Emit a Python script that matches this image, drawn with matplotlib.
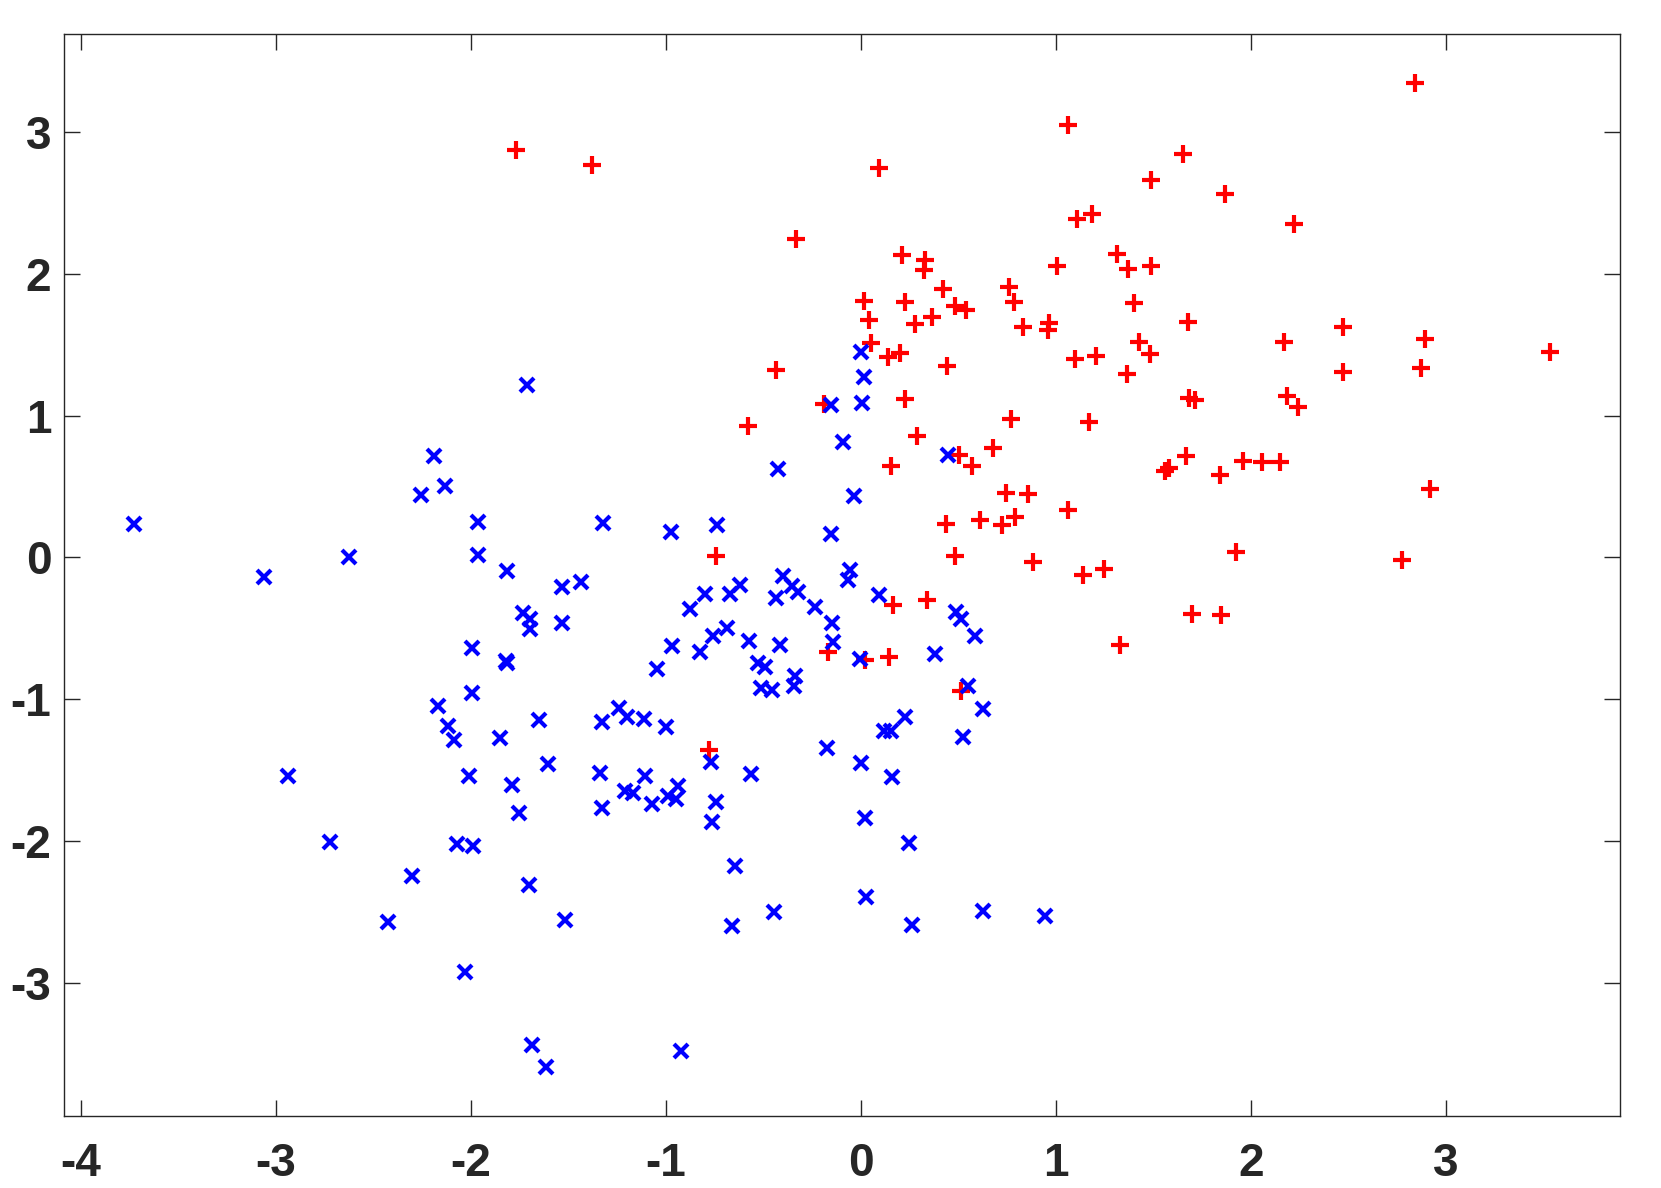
import matplotlib
matplotlib.use("Agg")
import matplotlib.pyplot as plt

# --- class 1 (red "+") ---
red_x = [-1.770, -1.380, 0.092, 1.060, 2.842, -0.333, 1.110, 1.187, 1.652, 1.490,
         1.865, 2.222, 0.211, 0.329, 0.324, 1.006, 1.311, 1.371, 1.490, 0.423,
         0.762, 0.787, 0.016, 0.226, 0.481, 0.541, 1.403, 1.677, 0.040, 0.276,
         0.367, 0.829, 0.965, 0.958, 2.470, 2.895, 3.536, 0.054, 0.139, 0.199,
         1.427, 1.482, 2.172, 0.444, 1.099, 1.205, 1.367, 2.471, 2.872, -0.435,
         0.226, 1.683, 1.711, 2.187, 2.242, -0.190, -0.579, 0.769, 1.170, 0.287,
         0.505, 0.676, 0.155, 0.570, 1.666, 1.560, 1.578, 1.841, 1.961, 2.059,
         2.148, 2.921, 0.745, 0.858, 1.062, 0.435, 0.612, 0.723, 0.788, -0.743,
         0.485, 0.883, 1.925, 2.776, 1.139, 1.246, 0.167, 0.337, 1.696, 1.845,
         1.330, -0.170, 0.020, 0.143, 0.515, -0.777]
red_y = [2.870, 2.770, 2.746, 3.047, 3.345, 2.248, 2.386, 2.420, 2.847, 2.659,
         2.563, 2.349, 2.135, 2.100, 2.024, 2.057, 2.139, 2.034, 2.055, 1.893,
         1.907, 1.803, 1.808, 1.803, 1.775, 1.747, 1.796, 1.663, 1.676, 1.648,
         1.695, 1.625, 1.653, 1.601, 1.627, 1.537, 1.451, 1.512, 1.413, 1.441,
         1.516, 1.431, 1.516, 1.352, 1.399, 1.418, 1.295, 1.310, 1.333, 1.320,
         1.117, 1.124, 1.110, 1.136, 1.059, 1.080, 0.929, 0.979, 0.957, 0.858,
         0.724, 0.770, 0.642, 0.642, 0.717, 0.612, 0.630, 0.582, 0.682, 0.673,
         0.673, 0.484, 0.454, 0.445, 0.336, 0.235, 0.261, 0.228, 0.287, 0.007,
         0.012, -0.033, 0.035, -0.021, -0.127, -0.080, -0.334, -0.301, -0.397, -0.404,
         -0.620, -0.670, -0.727, -0.703, -0.946, -1.360]

# --- class 2 (blue "x") ---
blue_x = [-3.728, -3.062, -2.623, -2.936, -2.725, -2.300, -2.423, -2.030, -1.685, -1.614,
          -0.923, -1.712, -2.188, -2.132, -2.255, -1.966, -1.966, -1.817, -1.535, -1.436,
          -1.732, -1.697, -1.695, -1.535, -1.997, -1.822, -1.815, -1.997, -2.171, -2.120,
          -2.089, -1.851, -1.652, -1.605, -2.010, -1.790, -1.752, -2.070, -1.987, -1.702,
          -1.517, -1.324, -0.974, -0.738, -1.328, -1.242, -1.200, -1.110, -1.000, -1.338,
          -1.330, -1.209, -1.170, -1.107, -1.071, -0.990, -0.937, -0.946, -0.767, -0.744,
          -0.765, -0.644, -0.663, -0.446, -1.048, -0.968, -0.876, -0.800, -0.826, -0.760,
          -0.671, -0.686, -0.620, -0.574, -0.416, -0.437, -0.400, -0.355, -0.323, -0.529,
          -0.494, -0.338, -0.344, -0.510, -0.458, -0.566, -0.234, -0.172, -0.155, 0.004,
          0.003, 0.016, -0.093, -0.425, -0.034, -0.155, -0.057, -0.066, 0.093, -0.148,
          -0.145, -0.007, 0.001, 0.022, 0.026, 0.157, 0.248, 0.262, 0.446, 0.488,
          0.514, 0.584, 0.379, 0.548, 0.628, 0.524, 0.224, 0.117, 0.152, 0.628,
          0.946]
blue_y = [0.235, -0.141, 0.000, -1.540, -2.007, -2.250, -2.574, -2.924, -3.437, -3.597,
          -3.484, 1.214, 0.717, 0.506, 0.442, 0.250, 0.019, -0.096, -0.209, -0.176,
          -0.395, -0.432, -0.505, -0.465, -0.639, -0.733, -0.748, -0.957, -1.045, -1.186,
          -1.288, -1.274, -1.145, -1.455, -1.545, -1.603, -1.805, -2.019, -2.033, -2.313,
          -2.560, 0.243, 0.181, 0.226, -1.161, -1.062, -1.124, -1.143, -1.196, -1.518,
          -1.767, -1.650, -1.662, -1.542, -1.738, -1.681, -1.612, -1.704, -1.446, -1.725,
          -1.869, -2.179, -2.597, -2.503, -0.784, -0.623, -0.364, -0.257, -0.665, -0.552,
          -0.260, -0.498, -0.195, -0.592, -0.616, -0.286, -0.129, -0.204, -0.246, -0.745,
          -0.775, -0.839, -0.905, -0.921, -0.935, -1.527, -0.352, -1.342, 1.077, 1.089,
          1.446, 1.272, 0.811, 0.626, 0.430, 0.167, -0.087, -0.157, -0.269, -0.463,
          -0.599, -0.719, -1.448, -1.838, -2.395, -1.552, -2.012, -2.595, 0.722, -0.383,
          -0.435, -0.555, -0.679, -0.910, -1.069, -1.268, -1.128, -1.222, -1.222, -2.492,
          -2.532]

xticks = [-4, -3, -2, -1, 0, 1, 2, 3]
yticks = [-3, -2, -1, 0, 1, 2, 3]

plt.rcParams['font.family'] = ['Liberation Sans', 'DejaVu Sans']

fig = plt.figure(figsize=(16.61, 11.88), dpi=100)
ax = fig.add_axes([0.0384, 0.0606, 0.9369, 0.9108])

ax.plot(red_x, red_y, linestyle='none', marker='+', color=(1, 0, 0),
        markersize=13, markeredgewidth=3.0)
ax.plot(blue_x, blue_y, linestyle='none', marker='x', color=(0, 0, 1),
        markersize=10, markeredgewidth=3.0)

ax.set_xlim(-4.088, 3.893)
ax.set_ylim(-3.94, 3.691)
ax.set_xticks(xticks)
ax.set_yticks(yticks)
ax.set_xticklabels([str(t) for t in xticks], fontsize=33, fontweight='bold', color='#262626')
ax.set_yticklabels([str(t) for t in yticks], fontsize=33, fontweight='bold', color='#262626')

ax.tick_params(direction='in', length=11.5, width=1.0, color='#262626',
               top=True, right=True)
ax.tick_params(axis='x', pad=19)
ax.tick_params(axis='y', pad=9)
for s in ax.spines.values():
    s.set_color('#262626')
    s.set_linewidth(1.0)

fig.savefig('out.png', dpi=100)
